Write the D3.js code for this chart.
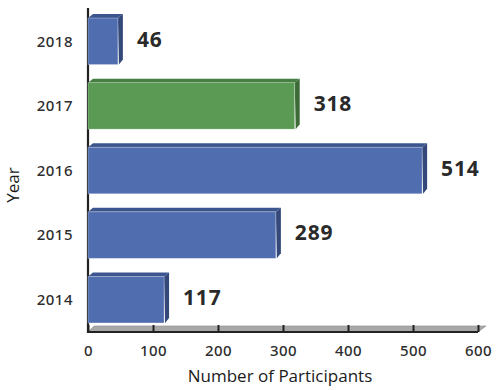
<!DOCTYPE html>
<html>
<head>
<meta charset="utf-8">
<script src="https://cdn.jsdelivr.net/npm/d3@7"></script>
<style>
  body { margin: 0; background: #fff; }
  svg { display: block; }
  .tick-label { font-family: "Noto Sans", sans-serif; font-size: 15px; font-weight: 500; fill: #2e2e2e; letter-spacing: 0.5px; }
  .value-label { font-family: "Noto Sans", sans-serif; font-size: 21px; font-weight: 700; fill: #2a2a2a; letter-spacing: 0.8px; }
  .axis-title { font-family: "Open Sans", sans-serif; font-size: 17px; fill: #1a1a1a; }
</style>
</head>
<body>
<div id="chart"></div>
<script>
// data
const years = ['2018', '2017', '2016', '2015', '2014'];
const participants = [46, 318, 514, 289, 117];
const barColors = ['blue', 'green', 'blue', 'blue', 'blue'];
const xTicks = [0, 100, 200, 300, 400, 500, 600];

const dms = { width: 500, height: 390 };
const plot = { left: 88, right: 478, top: 9, bottom: 332 };
const depth = { dx: 5, dy: 4 };

const palette = {
  blue: { front: '#506db0', top: '#3d558f', side: '#34487a' },
  green: { front: '#5a9a55', top: '#467f42', side: '#3c6b38' }
};

const svg = d3.select('#chart').append('svg')
  .attr('width', dms.width)
  .attr('height', dms.height);

const x = d3.scaleLinear().domain([0, 600]).range([plot.left, plot.right]);
const y = d3.scaleBand().domain(years).range([plot.top, plot.bottom])
  .paddingInner(0.28).paddingOuter(0.14);

// floor (3d base under the x axis)
svg.append('polygon')
  .attr('points', [
    [plot.left, plot.bottom],
    [plot.right, plot.bottom],
    [plot.right + 8, plot.bottom - 6],
    [plot.left + 6, plot.bottom - 6]
  ].map(p => p.join(',')).join(' '))
  .attr('fill', '#a8a8a8')
  .attr('stroke', '#8a8a8a')
  .attr('stroke-width', 0.6);

// y axis line
svg.append('line')
  .attr('x1', plot.left).attr('x2', plot.left)
  .attr('y1', plot.top - 1).attr('y2', plot.bottom + 1)
  .attr('stroke', '#222').attr('stroke-width', 2.2);

// x axis
const xAxis = d3.axisBottom(x).tickValues(xTicks).tickSize(-7).tickPadding(10);
const gx = svg.append('g')
  .attr('transform', `translate(0,${plot.bottom})`)
  .call(xAxis);
gx.select('.domain').attr('stroke', '#222').attr('stroke-width', 2.2).attr('d', `M${plot.left},0H${plot.right}`);
gx.selectAll('.tick line').attr('stroke', '#222').attr('stroke-width', 2);
gx.selectAll('.tick text').attr('class', 'tick-label').attr('dy', '0.9em');

// y labels
const yAxis = d3.axisLeft(y).tickSize(0).tickPadding(15);
const gy = svg.append('g')
  .attr('transform', `translate(${plot.left},0)`)
  .call(yAxis);
gy.select('.domain').remove();
gy.selectAll('.tick text').attr('class', 'tick-label').attr('dy', '0.35em');

// bars
const rows = years.map((yr, i) => ({ year: yr, value: participants[i], color: barColors[i] }));
const bars = svg.append('g').selectAll('g')
  .data(rows)
  .join('g');

const pts = arr => arr.map(p => p.join(',')).join(' ');

bars.append('polygon') // top face
  .attr('points', d => {
    const x0 = x(0), x1 = x(d.value), y0 = y(d.year);
    return pts([[x0, y0], [x0 + depth.dx, y0 - depth.dy], [x1 + depth.dx, y0 - depth.dy], [x1, y0]]);
  })
  .attr('fill', d => palette[d.color].top);

bars.append('polygon') // side face
  .attr('points', d => {
    const x1 = x(d.value), y0 = y(d.year), y1 = y0 + y.bandwidth();
    return pts([[x1, y0], [x1 + depth.dx, y0 - depth.dy], [x1 + depth.dx, y1 - depth.dy - 1], [x1 + 1, y1]]);
  })
  .attr('fill', d => palette[d.color].side);

bars.append('rect') // front face
  .attr('x', x(0))
  .attr('y', d => y(d.year))
  .attr('width', d => x(d.value) - x(0))
  .attr('height', y.bandwidth())
  .attr('fill', d => palette[d.color].front)
  .attr('stroke', 'rgba(255,255,255,0.35)')
  .attr('stroke-width', 0.8);

bars.append('text')
  .attr('class', 'value-label')
  .attr('x', d => x(d.value) + 19)
  .attr('y', d => y(d.year) + y.bandwidth() / 2 - 2)
  .attr('dy', '0.35em')
  .text(d => d.value);

// axis titles
svg.append('text')
  .attr('class', 'axis-title')
  .attr('x', (plot.left + plot.right) / 2 - 3)
  .attr('y', 382)
  .attr('text-anchor', 'middle')
  .text('Number of Participants');

svg.append('text')
  .attr('class', 'axis-title')
  .attr('transform', 'translate(19,185) rotate(-90)')
  .attr('text-anchor', 'middle')
  .text('Year');
</script>
</body>
</html>
